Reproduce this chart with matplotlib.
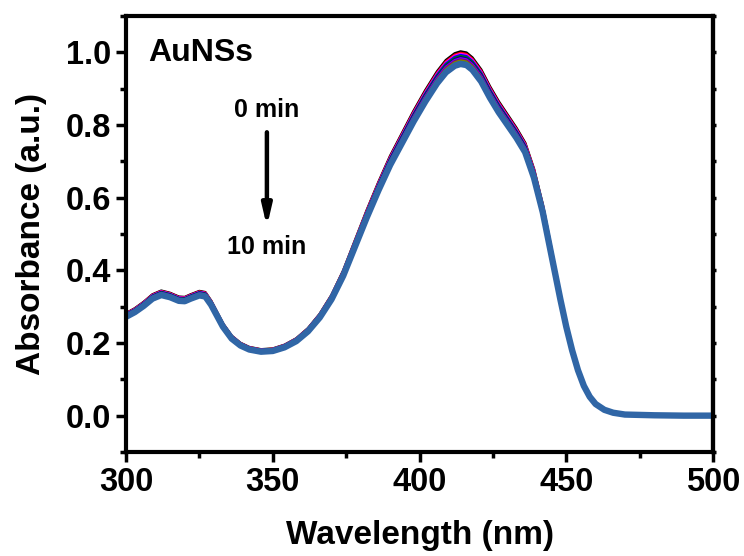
import matplotlib
matplotlib.use('Agg')
import matplotlib.pyplot as plt
from matplotlib.ticker import MultipleLocator, FormatStrFormatter
import numpy as np

plt.rcParams['font.family'] = ['Liberation Sans', 'DejaVu Sans']
plt.rcParams['font.weight'] = 'bold'

# spectrum of the 10 min sample (nm, a.u.)
wavelength = [300, 303, 306, 309, 312, 315, 318, 320, 322, 325, 327, 329, 331,
              333, 336, 339, 342, 346, 350, 354, 358, 362, 366, 370, 374, 378,
              382, 386, 390, 394, 398, 402, 406, 409, 412, 414, 416, 418, 421,
              424, 427, 430, 433, 436, 439, 442, 445, 448, 450, 452, 454, 456,
              458, 460, 463, 466, 470, 480, 490, 500]
absorb_10 = [0.272, 0.285, 0.302, 0.322, 0.332, 0.326, 0.316, 0.315, 0.322,
             0.331, 0.328, 0.305, 0.275, 0.245, 0.212, 0.193, 0.182, 0.176,
             0.178, 0.188, 0.205, 0.232, 0.270, 0.320, 0.385, 0.465, 0.545,
             0.620, 0.690, 0.750, 0.810, 0.865, 0.915, 0.945, 0.963, 0.968,
             0.965, 0.952, 0.920, 0.875, 0.835, 0.800, 0.765, 0.725, 0.655,
             0.560, 0.440, 0.320, 0.245, 0.180, 0.125, 0.082, 0.052, 0.032,
             0.016, 0.008, 0.003, 0.001, 0.0, 0.0]

# peak absorbance for each reading, 0 to 10 min
times = [0, 1, 2, 3, 4, 5, 6, 7, 8, 9, 10]
peak = [1.002, 0.998, 0.995, 0.992, 0.989, 0.986, 0.983, 0.980, 0.977, 0.973, 0.968]
colors = ['#000000', '#ff0000', '#ff00ff', '#0000ff', '#008000', '#000080',
          '#8000ff', '#800080', '#808000', '#008080', '#3066a6']

wl = np.array(wavelength)
base = np.array(absorb_10)

fig = plt.figure(figsize=(7.44, 5.56), dpi=100)
ax = fig.add_axes([0.1694, 0.1871, 0.7889, 0.7841])

for t, p, c in zip(times, peak, colors):
    lw = 4.6 if t == times[-1] else 2.0
    ax.plot(wl, base * p / peak[-1], color=c, lw=lw, solid_joinstyle='round')

ax.set_xlim(300, 500)
ax.set_ylim(-0.1, 1.1)
ax.xaxis.set_major_locator(MultipleLocator(50))
ax.xaxis.set_minor_locator(MultipleLocator(25))
ax.yaxis.set_major_locator(MultipleLocator(0.2))
ax.yaxis.set_minor_locator(MultipleLocator(0.1))
ax.yaxis.set_major_formatter(FormatStrFormatter('%.1f'))

for s in ax.spines.values():
    s.set_linewidth(3)
ax.tick_params(which='major', direction='out', length=7, width=2.5,
               labelsize=23.5, pad=4)
ax.tick_params(which='minor', direction='out', length=4, width=2.5)

# short ticks on the right spine
rax = ax.secondary_yaxis('right')
rax.spines['right'].set_linewidth(3)
rax.yaxis.set_major_locator(MultipleLocator(0.2))
rax.yaxis.set_minor_locator(MultipleLocator(0.1))
rax.tick_params(which='both', direction='out', length=2.5, width=2.5,
                labelright=False)

ax.set_xlabel('Wavelength (nm)', fontsize=24, fontweight='bold', labelpad=16)
ax.set_ylabel('Absorbance (a.u.)', fontsize=24, fontweight='bold', labelpad=13)

ax.text(0.038, 0.915, 'AuNSs', transform=ax.transAxes, fontsize=23,
        fontweight='bold', va='center', ha='left')
ax.text(348, 0.84, '0 min', fontsize=18, fontweight='bold', ha='center', va='center')
ax.text(348, 0.465, '10 min', fontsize=18, fontweight='bold', ha='center', va='center')
ax.annotate('', xy=(348, 0.52), xytext=(348, 0.78),
            arrowprops=dict(arrowstyle='-|>,head_width=0.28,head_length=1.2',
                            color='k', lw=3.2, shrinkA=0, shrinkB=0))

fig.savefig('out.png', dpi=100)
